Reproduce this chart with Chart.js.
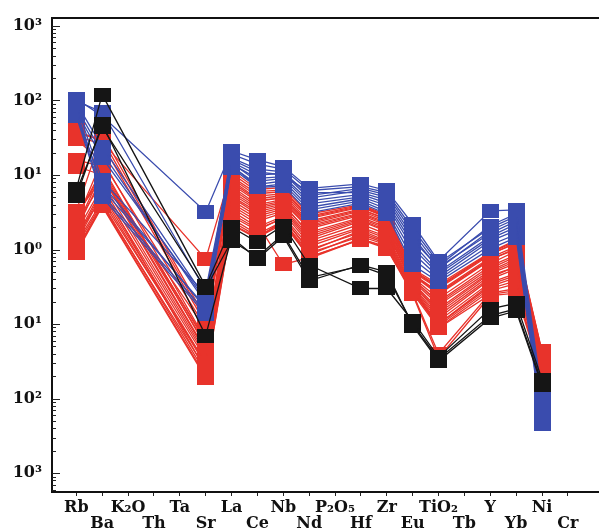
<!DOCTYPE html>
<html>
<head>
<meta charset="utf-8">
<script src="https://cdn.jsdelivr.net/npm/chart.js@4"></script>
<style>
  body { margin: 0; background: #fff; }
</style>
</head>
<body>
<canvas id="chart" width="608" height="532"></canvas>
<script>
// element order along the x axis (labels alternate top / bottom row)
const elements = ["Rb", "Ba", "K₂O", "Th", "Ta", "Sr", "La", "Ce", "Nb", "Nd", "P₂O₅", "Hf", "Zr", "Eu", "TiO₂", "Tb", "Y", "Yb", "Ni", "Cr"];
// elements that actually carry values
const plotted = ["Rb", "Ba", "Sr", "La", "Ce", "Nb", "Nd", "Hf", "Zr", "Eu", "TiO₂", "Y", "Yb", "Ni"];

const yTickValues = [1e-3, 1e-2, 1e-1, 1, 10, 100, 1000];
const yTickLabels = ["10³", "10²", "10¹", "10⁰", "10¹", "10²", "10³"];

// samples, values in plotted order
const blackSeries = [
  [6.5, 120, 0.32, 2.0, 1.25, 2.1, 0.62, 0.3, 0.3, 0.11, 0.036, 0.16, 0.19, 0.018],
  [5.2, 48, 0.07, 1.45, 0.75, 1.5, 0.38, 0.62, 0.5, 0.095, 0.032, 0.12, 0.15, 0.015],
  [6.0, 44, 0.3, 1.3, 0.8, 1.6, 0.42, 0.6, 0.45, 0.1, 0.034, 0.13, 0.16, 0.016],
];

const blueSeries = [
  [105, 62, 3.2, 21, 16, 13, 6.6, 7.6, 6.2, 2.2, 0.7, 3.3, 3.4, 0.011],
  [98, 70, 0.28, 17, 12, 11, 5.3, 6.6, 5.4, 1.7, 0.6, 2.1, 3.0, 0.0095],
  [92, 24, 0.22, 19, 14, 12, 6.2, 7.0, 5.8, 1.9, 0.66, 1.95, 2.8, 0.0085],
  [86, 8.5, 0.25, 15, 10, 10.5, 4.9, 6.2, 5.0, 1.5, 0.55, 1.8, 2.6, 0.008],
  [80, 20, 0.19, 16, 11, 10, 5.8, 5.8, 4.6, 1.35, 0.58, 1.65, 2.4, 0.0072],
  [75, 6.5, 0.17, 14, 9, 9.5, 4.5, 5.5, 4.2, 1.2, 0.5, 1.5, 2.2, 0.0066],
  [71, 17, 0.21, 14.5, 8.2, 9, 4.1, 5.1, 3.9, 1.05, 0.47, 1.4, 2.0, 0.006],
  [67, 5.5, 0.145, 13, 7.5, 8.3, 3.7, 4.8, 3.5, 0.9, 0.43, 1.3, 1.8, 0.0055],
  [64, 7.5, 0.16, 13.5, 6.9, 7.6, 3.4, 4.5, 3.2, 0.75, 0.4, 1.15, 1.6, 0.005],
  [62, 5, 0.135, 12.5, 6.8, 7.1, 3.1, 4.2, 3.0, 0.62, 0.37, 1.02, 1.45, 0.0045],
];

const redSeries = [
  [40, 28, 0.74, 11.5, 6.4, 6.8, 3.0, 4.0, 2.9, 0.55, 0.34, 0.92, 1.35, 0.043],
  [3.3, 35, 0.12, 9.0, 5.2, 5.6, 2.6, 3.7, 2.7, 0.5, 0.3, 0.85, 1.25, 0.04],
  [16, 13, 0.05, 5.6, 3.4, 4.1, 1.6, 2.6, 1.9, 0.36, 0.16, 0.5, 0.7, 0.03],
  [36, 30, 0.11, 10.5, 6.0, 6.3, 2.8, 3.9, 2.8, 0.53, 0.32, 0.9, 1.3, 0.042],
  [2.0, 11, 0.06, 4.2, 2.6, 3.3, 1.3, 2.2, 1.6, 0.32, 0.13, 0.42, 0.6, 0.028],
  [33, 26, 0.1, 8.5, 4.8, 5.3, 2.4, 3.5, 2.5, 0.47, 0.27, 0.78, 1.1, 0.038],
  [30, 15, 0.09, 7.5, 4.4, 5.0, 2.2, 3.3, 2.4, 0.45, 0.25, 0.72, 1.05, 0.036],
  [1.2, 4.5, 0.03, 3.0, 1.9, 2.6, 1.0, 1.7, 1.25, 0.28, 0.1, 0.32, 0.42, 0.024],
  [13, 10, 0.045, 6.0, 3.6, 4.3, 1.9, 2.9, 2.1, 0.4, 0.2, 0.6, 0.85, 0.033],
  [3.0, 9, 0.085, 9.5, 5.6, 6.0, 2.7, 3.8, 2.75, 0.52, 0.31, 0.88, 1.2, 0.041],
  [2.6, 12, 0.057, 5.0, 3.0, 3.7, 1.5, 2.5, 1.8, 0.35, 0.15, 0.48, 0.65, 0.029],
  [1.0, 4.0, 0.025, 2.6, 1.6, 2.4, 0.9, 1.5, 1.15, 0.27, 0.095, 0.3, 0.38, 0.022],
  [2.2, 8, 0.04, 4.6, 2.8, 3.5, 1.4, 2.4, 1.75, 0.34, 0.14, 0.45, 0.58, 0.027],
  [2.8, 10.5, 0.053, 7.0, 4.0, 4.7, 2.1, 3.1, 2.3, 0.42, 0.22, 0.65, 0.95, 0.034],
  [1.5, 5, 0.028, 3.3, 2.0, 2.8, 1.1, 1.9, 1.4, 0.3, 0.11, 0.36, 0.48, 0.025],
  [2.4, 16, 0.062, 6.5, 3.8, 4.5, 2.0, 3.0, 2.2, 0.41, 0.19, 0.56, 0.8, 0.032],
  [1.35, 6, 0.034, 3.6, 2.2, 0.63, 0.78, 1.4, 1.05, 0.26, 0.04, 0.26, 0.3, 0.021],
  [1.85, 9.5, 0.043, 5.2, 3.2, 3.9, 1.7, 2.7, 2.0, 0.38, 0.18, 0.52, 0.75, 0.031],
  [1.1, 4.2, 0.022, 2.4, 1.5, 2.3, 0.85, 1.6, 1.2, 0.29, 0.09, 0.28, 0.35, 0.023],
  [1.7, 7, 0.037, 3.9, 2.4, 3.1, 1.2, 2.0, 1.5, 0.31, 0.12, 0.4, 0.55, 0.026],
  [0.95, 3.9, 0.02, 2.2, 1.45, 2.2, 0.8, 1.36, 1.03, 0.25, 0.035, 0.24, 0.26, 0.02],
  [1.25, 5.5, 0.03, 2.8, 1.8, 2.7, 0.95, 1.8, 1.3, 0.3, 0.1, 0.34, 0.45, 0.024],
  [1.45, 6.5, 0.024, 8.0, 4.6, 4.9, 2.3, 3.4, 2.6, 0.46, 0.26, 0.75, 1.0, 0.037],
  [0.9, 3.8, 0.019, 2.15, 1.4, 2.5, 0.76, 1.38, 1.1, 0.26, 0.088, 0.25, 0.28, 0.021],
];

const RED = "#e8332b";
const BLUE = "#3a4cae";
const BLACK = "#151515";

// rectangular markers, a bit wider than tall
function makeMarker(color) {
  const c = document.createElement("canvas");
  c.width = 17;
  c.height = 14;
  const g = c.getContext("2d");
  g.fillStyle = color;
  g.fillRect(0, 0, 17, 14);
  return c;
}

const toPoints = (vals) =>
  plotted.map((name, i) => ({ x: elements.indexOf(name), y: vals[i] }));

const makeSet = (vals, color, order) => ({
  data: toPoints(vals),
  borderColor: color,
  borderWidth: 1.3,
  pointStyle: makeMarker(color),
  pointRadius: 8,
  fill: false,
  tension: 0,
  order: order,
});

const datasets = [
  ...blackSeries.map((s) => makeSet(s, BLACK, 1)),
  ...blueSeries.map((s) => makeSet(s, BLUE, 2)),
  ...redSeries.map((s) => makeSet(s, RED, 3)),
];

const labelFont = { family: "DejaVu Serif", weight: "bold", size: 16, lineHeight: 1 };

// small inward ticks on the log axis
const logTicks = {
  id: "logTicks",
  afterDraw(chart) {
    const y = chart.scales.y;
    const left = chart.chartArea.left;
    const ctx = chart.ctx;
    ctx.save();
    ctx.strokeStyle = "#222";
    ctx.lineWidth = 1;
    for (let e = -4; e <= 3; e++) {
      for (let m = 1; m <= 9; m++) {
        const v = m * Math.pow(10, e);
        if (v < y.min || v > y.max) continue;
        const py = Math.round(y.getPixelForValue(v)) + 0.5;
        const len = m === 1 ? 8 : 4;
        ctx.beginPath();
        ctx.moveTo(left, py);
        ctx.lineTo(left + len, py);
        ctx.stroke();
      }
    }
    ctx.restore();
  },
};

new Chart(document.getElementById("chart"), {
  type: "line",
  data: { datasets },
  options: {
    responsive: false,
    animation: false,
    devicePixelRatio: 1,
    layout: { padding: 0 },
    plugins: { legend: { display: false }, tooltip: { enabled: false } },
    scales: {
      x: {
        type: "linear",
        position: "bottom",
        min: -0.94,
        max: 20.19,
        afterBuildTicks: (scale) => {
          scale.ticks = elements.map((_, i) => ({ value: i }));
        },
        afterFit: (scale) => {
          scale.height = 40;
        },
        ticks: {
          autoSkip: false,
          maxRotation: 0,
          minRotation: 0,
          padding: 4,
          color: "#111",
          font: labelFont,
          callback: (v) => {
            const i = Math.round(v);
            return i % 2 === 0 ? [elements[i], ""] : ["", elements[i]];
          },
        },
        grid: { drawOnChartArea: false, tickLength: 4, color: "#222", tickWidth: 1 },
        border: { display: true, color: "#111", width: 2 },
      },
      top: {
        type: "linear",
        position: "top",
        min: -0.94,
        max: 20.19,
        afterBuildTicks: (scale) => {
          scale.ticks = [];
        },
        afterFit: (scale) => {
          scale.height = 15;
        },
        ticks: { display: false },
        grid: { drawOnChartArea: false, drawTicks: false },
        border: { display: true, color: "#111", width: 2 },
      },
      y: {
        type: "logarithmic",
        position: "left",
        min: 0.000558,
        max: 1278,
        bounds: "data",
        afterBuildTicks: (scale) => {
          scale.ticks = yTickValues.map((v) => ({ value: v }));
        },
        afterFit: (scale) => {
          scale.width = 52;
        },
        ticks: {
          padding: 10,
          color: "#111",
          font: labelFont,
          callback: (v) => yTickLabels[yTickValues.indexOf(v)],
        },
        grid: { drawOnChartArea: false, drawTicks: false },
        border: { display: true, color: "#111", width: 2 },
      },
    },
  },
  plugins: [logTicks],
});
</script>
</body>
</html>
